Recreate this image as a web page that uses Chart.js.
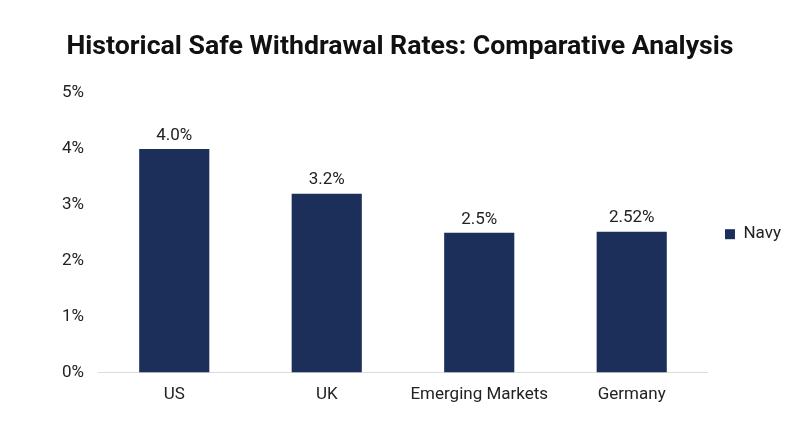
<!DOCTYPE html>
<html>
<head>
<meta charset="utf-8">
<script src="https://cdn.jsdelivr.net/npm/chart.js@4"></script>
<style>
  html, body { margin: 0; padding: 0; background: #fff; }
  #wrap { width: 800px; height: 447px; }
</style>
</head>
<body>
<div id="wrap"><canvas id="chart"></canvas></div>
<script>
const categories = ["US", "UK", "Emerging Markets", "Germany"];
const rates = [4.0, 3.2, 2.5, 2.52];
const rateLabels = ["4.0%", "3.2%", "2.5%", "2.52%"];
const yTicks = [0, 1, 2, 3, 4, 5];

// draws the value above each bar
const barLabels = {
  id: "barLabels",
  afterDatasetsDraw(chart) {
    const ctx = chart.ctx;
    const meta = chart.getDatasetMeta(0);
    ctx.save();
    ctx.font = "17px Roboto";
    ctx.fillStyle = "#222";
    ctx.textAlign = "center";
    ctx.textBaseline = "bottom";
    meta.data.forEach((bar, i) => {
      ctx.fillText(rateLabels[i], bar.x, bar.y - 5);
    });
    ctx.restore();
  },
};

new Chart(document.getElementById("chart"), {
  type: "bar",
  data: {
    labels: categories,
    datasets: [
      {
        label: "Navy",
        data: rates,
        backgroundColor: "#1b2f5a",
        borderWidth: 0,
        barPercentage: 0.46,
        categoryPercentage: 1,
      },
    ],
  },
  options: {
    responsive: true,
    maintainAspectRatio: false,
    animation: false,
    layout: {
      padding: { left: 9, right: 9, top: 31, bottom: 30 },
    },
    plugins: {
      title: {
        display: true,
        text: "Historical Safe Withdrawal Rates: Comparative Analysis",
        font: { family: "Roboto", size: 26.7, weight: "bold" },
        color: "#111",
        padding: { top: 0, bottom: 30 },
      },
      legend: {
        position: "right",
        // empty title only nudges the item down a bit
        title: { display: true, text: "", padding: 3 },
        labels: {
          boxWidth: 10,
          boxHeight: 10,
          padding: 17,
          font: { family: "Roboto", size: 17 },
          color: "#222",
        },
      },
      tooltip: { enabled: false },
    },
    scales: {
      x: {
        grid: { display: false, drawTicks: false },
        border: { color: "#dcdcdc" },
        ticks: {
          padding: 12,
          font: { family: "Roboto", size: 17 },
          color: "#222",
        },
      },
      y: {
        min: 0,
        max: 5,
        afterBuildTicks(axis) {
          axis.ticks = yTicks.map((v) => ({ value: v }));
        },
        afterFit(axis) {
          axis.width = 89;
        },
        grid: { display: false, drawTicks: false },
        border: { display: false },
        ticks: {
          padding: 14,
          font: { family: "Roboto", size: 17 },
          color: "#222",
          callback: (v) => v + "%",
        },
      },
    },
  },
  plugins: [barLabels],
});
</script>
</body>
</html>
